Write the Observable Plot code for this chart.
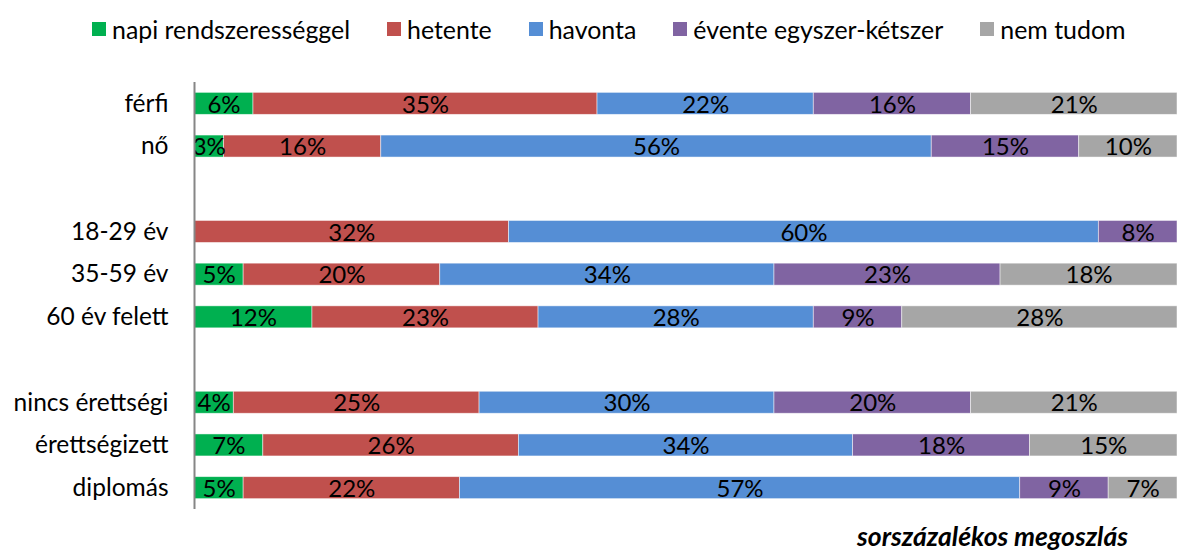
<!DOCTYPE html>
<html><head><meta charset="utf-8">
<script src="https://cdn.jsdelivr.net/npm/d3@7"></script>
<script src="https://cdn.jsdelivr.net/npm/@observablehq/plot@0.6"></script>
<style>
body{margin:0;background:#fff;font-family:Lato,"Open Sans",sans-serif;color:#000;position:relative;width:1178px;height:550px;overflow:hidden;}
#legend{height:60px;display:flex;align-items:center;padding-left:92px;padding-bottom:3px;box-sizing:border-box;font-size:24.9px;white-space:nowrap;}
.item{display:flex;align-items:center;margin-right:37px;}
.sw{width:14px;height:14px;margin-right:6px;}
#chart{height:460px;}
#chart svg{display:block;}
#caption{position:absolute;top:521px;right:50px;font-size:26.5px;font-weight:bold;font-style:italic;line-height:30px;white-space:nowrap;}
</style></head><body>
<div id="legend"></div>
<div id="chart"></div>
<div id="caption">sorszázalékos megoszlás</div>
<script>
const categories = ["férfi","nő","_gap1","18-29 év","35-59 év","60 év felett","_gap2","nincs érettségi","érettségizett","diplomás"];
const groups = ["férfi","nő","18-29 év","35-59 év","60 év felett","nincs érettségi","érettségizett","diplomás"];
const series = ["napi rendszerességgel","hetente","havonta","évente egyszer-kétszer","nem tudom"];
const napi =     [6, 3, 0, 5,12, 4, 7, 5];
const hetente =  [35,16,32,20,23,25,26,22];
const havonta =  [22,56,60,34,28,30,34,57];
const evente =   [16,15, 8,23, 9,20,18, 9];
const nemTudom = [21,10, 0,18,28,21,15, 7];
const colors = ["#00B050","#C0504D","#558ED5","#8064A2","#A6A6A6"];

const values = [napi, hetente, havonta, evente, nemTudom];
const data = [];
groups.forEach((g, i) => series.forEach((s, j) => {
  if (values[j][i] > 0) data.push({group: g, series: s, value: values[j][i]});
}));

const legend = document.getElementById("legend");
series.forEach((s, j) => {
  const it = document.createElement("div"); it.className = "item";
  const sw = document.createElement("div"); sw.className = "sw"; sw.style.background = colors[j];
  const t = document.createElement("span"); t.textContent = s;
  it.appendChild(sw); it.appendChild(t); legend.appendChild(it);
});

const stackOpts = {x: "value", y: "group", z: "series", order: series, offset: null};
const chart = Plot.plot({
  width: 1178,
  height: 460,
  marginTop: 22,
  marginBottom: 11,
  marginLeft: 194,
  marginRight: 1,
  style: {fontFamily: "Lato, 'Open Sans', sans-serif", fontSize: "24px", color: "#000", background: "#fff"},
  x: {domain: [0, 100], axis: null},
  y: {domain: categories, paddingInner: 0.485, paddingOuter: 0.2425, round: false, axis: null},
  color: {domain: series, range: colors},
  marks: [
    Plot.axisY({tickSize: 0, tickPadding: 26, fontSize: 24.5, label: null, fill: "black",
      tickFormat: d => d.startsWith("_") ? "" : d}),
    Plot.barX(data, Plot.stackX({...stackOpts, fill: "series", stroke: "white", strokeWidth: 0.8, strokeOpacity: 0.6})),
    Plot.text(data, Plot.stackX({...stackOpts, text: d => d.value + "%", fill: "black", fontSize: 24, clip: true, dy: 1})),
    Plot.ruleX([0], {stroke: "#868686", strokeWidth: 2})
  ]
});
document.getElementById("chart").appendChild(chart);
</script>
</body></html>
